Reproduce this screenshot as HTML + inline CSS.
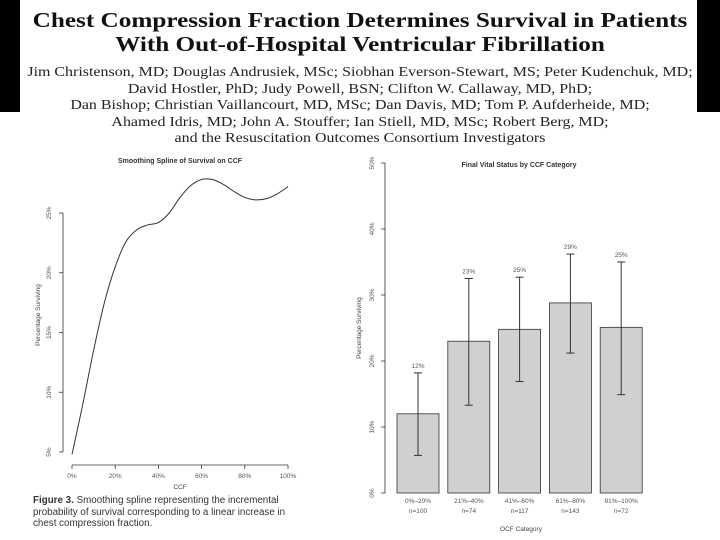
<!DOCTYPE html>
<html><head><meta charset="utf-8"><style>
body{margin:0;width:720px;height:540px;background:#fff;position:relative;overflow:hidden;font-family:"Liberation Sans",sans-serif}
.blk{position:absolute;background:#000}
.hdr{position:absolute;left:0;width:720px;text-align:center;font-family:"Liberation Serif",serif;color:#111;transform-origin:360px 0}
.t{font-weight:bold;font-size:21px;line-height:24px;top:8px;transform:scaleX(1.2)}
.a{font-size:13.2px;line-height:16.5px;top:64px;color:#222;transform:scaleX(1.21)}
</style></head><body>
<div class="blk" style="left:0;top:0;width:20px;height:112px"></div>
<div class="blk" style="left:697px;top:0;width:23px;height:112px"></div>
<div class="hdr t">Chest Compression Fraction Determines Survival in Patients<br>With Out-of-Hospital Ventricular Fibrillation</div>
<div class="hdr a">Jim Christenson, MD; Douglas Andrusiek, MSc; Siobhan Everson-Stewart, MS; Peter Kudenchuk, MD;<br>David Hostler, PhD; Judy Powell, BSN; Clifton W. Callaway, MD, PhD;<br>Dan Bishop; Christian Vaillancourt, MD, MSc; Dan Davis, MD; Tom P. Aufderheide, MD;<br>Ahamed Idris, MD; John A. Stouffer; Ian Stiell, MD, MSc; Robert Berg, MD;<br>and the Resuscitation Outcomes Consortium Investigators</div>
<svg id="s" width="720" height="540" style="position:absolute;left:0;top:0" font-family="Liberation Sans, sans-serif"></svg>
<div style="position:absolute;left:33px;top:495px;font-size:9.8px;line-height:11.5px;color:#333;width:278px"><b>Figure 3.</b> Smoothing spline representing the incremental probability of survival corresponding to a linear increase in chest compression fraction.</div>
<script>
const splineX=[0,5,10,15,20,25,30,35,40,45,50,55,60,65,70,75,80,85,90,95,100];
const splineY=[4.8,9,13.5,17.5,20.5,22.6,23.6,24.0,24.2,25.0,26.3,27.3,27.8,27.8,27.4,26.8,26.3,26.1,26.2,26.6,27.2];
const lxTicks=[0,20,40,60,80,100];
const lyTicks=[5,10,15,20,25];
const categories=["0%–20%","21%–40%","41%–60%","61%–80%","81%–100%"];
const nLabels=["n=100","n=74","n=117","n=143","n=72"];
const barValues=[12.0,23.0,24.8,28.8,25.1];
const ciLow=[5.7,13.3,16.9,21.2,14.9];
const ciHigh=[18.2,32.5,32.7,36.2,35.0];
const barLabels=["12%","23%","25%","29%","25%"];
const ryTicks=[0,10,20,30,40,50];
const s=document.getElementById('s');
function el(t,a,txt){const e=document.createElementNS('http://www.w3.org/2000/svg',t);for(const k in a)e.setAttribute(k,a[k]);if(txt!==undefined)e.textContent=txt;s.appendChild(e);return e;}
// left chart
const lx=v=>72+v*2.16, ly=v=>452-(v-5)*11.95;
let e=el('text',{x:180,y:163,'font-size':7,'font-weight':'bold','text-anchor':'middle',fill:'#333'},'Smoothing Spline of Survival on CCF');

e=el('line',{x1:lx(0),x2:lx(100),y1:465,y2:465,stroke:'#333','stroke-width':0.8});

e=el('line',{x1:63,x2:63,y1:ly(5),y2:ly(25),stroke:'#333','stroke-width':0.8});

lxTicks.forEach(v=>{el('line',{x1:lx(v),x2:lx(v),y1:465,y2:469,stroke:'#333','stroke-width':0.8});
 e=el('text',{x:lx(v),y:478,'font-size':6.5,'text-anchor':'middle',fill:'#555'},v+'%');
 });
lyTicks.forEach(v=>{el('line',{x1:59,x2:63,y1:ly(v),y2:ly(v),stroke:'#333','stroke-width':0.8});
 e=el('text',{x:0,y:0,'font-size':6.5,'text-anchor':'middle',fill:'#555',transform:`translate(51,${ly(v)}) rotate(-90)`},v+'%');
 });
e=el('text',{x:0,y:0,'font-size':6.5,'text-anchor':'middle',fill:'#444',transform:'translate(40,315) rotate(-90)'},'Percentage Surviving');

e=el('text',{x:180,y:489,'font-size':6.5,'text-anchor':'middle',fill:'#444'},'CCF');

let pts=splineX.map((x,i)=>[lx(x),ly(splineY[i])]);
let d='M'+pts[0];for(let i=0;i<pts.length-1;i++){const p0=pts[i-1]||pts[i],p1=pts[i],p2=pts[i+1],p3=pts[i+2]||p2;
 d+=` C${p1[0]+(p2[0]-p0[0])/6},${p1[1]+(p2[1]-p0[1])/6} ${p2[0]-(p3[0]-p1[0])/6},${p2[1]-(p3[1]-p1[1])/6} ${p2[0]},${p2[1]}`;}
e=el('path',{d:d,fill:'none',stroke:'#333','stroke-width':1});

// right chart
const ry=v=>493-v*6.6, bx=i=>397+i*50.8, bw=42;
e=el('text',{x:519,y:167,'font-size':7,'font-weight':'bold','text-anchor':'middle',fill:'#333'},'Final Vital Status by CCF Category');

e=el('line',{x1:385,x2:385,y1:ry(0),y2:ry(50),stroke:'#333','stroke-width':0.8});

ryTicks.forEach(v=>{el('line',{x1:381,x2:385,y1:ry(v),y2:ry(v),stroke:'#333','stroke-width':0.8});
 e=el('text',{x:0,y:0,'font-size':6.5,'text-anchor':'middle',fill:'#555',transform:`translate(374,${ry(v)}) rotate(-90)`},v+'%');
 });
e=el('text',{x:0,y:0,'font-size':6.5,'text-anchor':'middle',fill:'#444',transform:'translate(361,328) rotate(-90)'},'Percentage Surviving');

barValues.forEach((v,i)=>{
 e=el('rect',{x:bx(i),y:ry(v),width:bw,height:ry(0)-ry(v),fill:'#d0d0d0',stroke:'#333','stroke-width':0.8});
 
 const c=bx(i)+bw/2;
 e=el('line',{x1:c,x2:c,y1:ry(ciLow[i]),y2:ry(ciHigh[i]),stroke:'#333','stroke-width':1});
 
 el('line',{x1:c-4,x2:c+4,y1:ry(ciLow[i]),y2:ry(ciLow[i]),stroke:'#333','stroke-width':1});
 el('line',{x1:c-4,x2:c+4,y1:ry(ciHigh[i]),y2:ry(ciHigh[i]),stroke:'#333','stroke-width':1});
 e=el('text',{x:c,y:ry(ciHigh[i])-5,'font-size':6.5,'text-anchor':'middle',fill:'#555'},barLabels[i]);
 
 e=el('text',{x:c,y:503,'font-size':6.5,'text-anchor':'middle',fill:'#555'},categories[i]);
 
 e=el('text',{x:c,y:513,'font-size':6.5,'text-anchor':'middle',fill:'#555'},nLabels[i]);
 
});
e=el('text',{x:521,y:531,'font-size':6.5,'text-anchor':'middle',fill:'#444'},'OCF Category');

</script>
</body></html>
